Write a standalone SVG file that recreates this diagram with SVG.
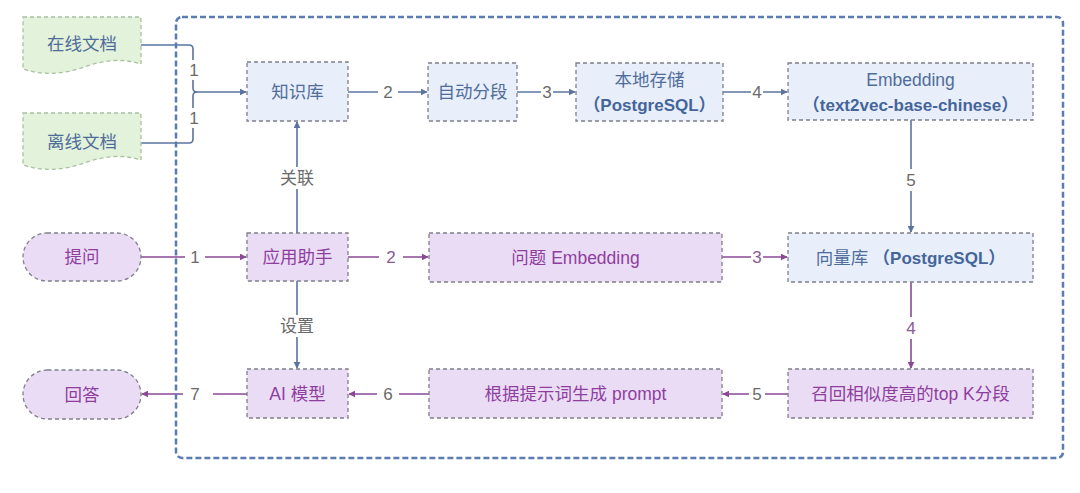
<svg xmlns="http://www.w3.org/2000/svg" width="1080" height="493" viewBox="0 0 1080 493">
<defs>
<style>
.t{font-family:"Liberation Sans","Noto Sans CJK SC",sans-serif;font-size:17.5px;text-anchor:middle;dominant-baseline:central}
.tb{fill:#4f6d9a}
.tp{fill:#8e3f9e}
.bold{font-weight:bold;fill:#44659a;font-size:17px}
.lbl{font-family:"Liberation Sans","Noto Sans CJK SC",sans-serif;font-size:17px;text-anchor:middle;dominant-baseline:central;fill:#6a6a6a}
.lblp{fill:#8a5a94}
.bx{stroke:#7f7f8a;stroke-width:1.3;stroke-dasharray:4 3}
.blue{fill:#e8eefa}
.purp{fill:#ebdcf6}
.green{fill:#e3f2da;stroke:#a9c0a0;stroke-width:1.3;stroke-dasharray:4 3}
.cb{fill:none;stroke:#5a74a0;stroke-width:1.6}
.cp{fill:none;stroke:#8a4896;stroke-width:1.6}
.bg{fill:#ffffff}
</style>
<marker id="ab" viewBox="0 0 10 10" refX="9" refY="5" markerWidth="7" markerHeight="7" orient="auto" markerUnits="userSpaceOnUse"><path d="M0,0 L10,5 L0,10 Z" fill="#5a74a0"/></marker>
<marker id="ap" viewBox="0 0 10 10" refX="9" refY="5" markerWidth="7" markerHeight="7" orient="auto" markerUnits="userSpaceOnUse"><path d="M0,0 L10,5 L0,10 Z" fill="#8a4896"/></marker>
</defs>
<rect width="1080" height="493" fill="#ffffff"/>

<g id="connectors">
<path class="cb" d="M141,45 H189 Q193,45 193,49 V88 Q193,92 197,92 H246" marker-end="url(#ab)"/>
<path class="cb" d="M141,143 H189 Q193,143 193,139 V96 Q193,92 197,92"/>
<path class="cb" d="M348,92 H427" marker-end="url(#ab)"/>
<path class="cb" d="M517,92 H575" marker-end="url(#ab)"/>
<path class="cb" d="M723,92 H787" marker-end="url(#ab)"/>
<path class="cb" d="M911,120 V232" marker-end="url(#ab)"/>
<path class="cb" d="M297,233 V122" marker-end="url(#ab)"/>
<path class="cb" d="M297,281 V368" marker-end="url(#ab)"/>
<path class="cp" d="M141,257 H246" marker-end="url(#ap)"/>
<path class="cp" d="M348,257 H428" marker-end="url(#ap)"/>
<path class="cp" d="M722,257 H787" marker-end="url(#ap)"/>
<path class="cp" d="M911,282 V368" marker-end="url(#ap)"/>
<path class="cp" d="M788,394 H723" marker-end="url(#ap)"/>
<path class="cp" d="M429,394 H349" marker-end="url(#ap)"/>
<path class="cp" d="M247,394 H142" marker-end="url(#ap)"/>
<rect class="bg" x="187" y="60" width="14" height="20"/>
<text class="lbl" x="194" y="70">1</text>
<rect class="bg" x="187" y="108" width="14" height="20"/>
<text class="lbl" x="194" y="118">1</text>
<rect class="bg" x="378" y="82" width="20" height="20"/>
<text class="lbl" x="388" y="92">2</text>
<rect class="bg" x="541" y="82" width="12" height="20"/>
<text class="lbl" x="547" y="92">3</text>
<rect class="bg" x="751" y="82" width="12" height="20"/>
<text class="lbl" x="757" y="92">4</text>
<rect class="bg" x="903" y="169" width="16" height="22"/>
<text class="lbl" x="911" y="180">5</text>
<rect class="bg" x="275" y="167" width="44" height="22"/>
<text class="lbl" x="297" y="178">关联</text>
<rect class="bg" x="275" y="315" width="44" height="22"/>
<text class="lbl" x="297" y="326">设置</text>
<rect class="bg" x="185" y="247" width="20" height="20"/>
<text class="lbl" x="195" y="257">1</text>
<rect class="bg" x="379" y="247" width="24" height="20"/>
<text class="lbl lblp" x="391" y="257">2</text>
<rect class="bg" x="751" y="247" width="12" height="20"/>
<text class="lbl lblp" x="757" y="257">3</text>
<rect class="bg" x="903" y="317" width="16" height="22"/>
<text class="lbl lblp" x="911" y="328">4</text>
<rect class="bg" x="749" y="384" width="16" height="20"/>
<text class="lbl" x="757" y="394">5</text>
<rect class="bg" x="377" y="384" width="22" height="20"/>
<text class="lbl" x="388" y="394">6</text>
<rect class="bg" x="183" y="384" width="30" height="20"/>
<text class="lbl" x="195" y="394">7</text>
</g>

<g id="boundary">
<rect x="176" y="17" width="887" height="441" rx="6" fill="none" stroke="#5b7cb3" stroke-width="2.5" stroke-dasharray="6 3"/>
</g>

<g id="online-doc">
<path class="green" d="M23,17 H141 V64 C122,58 104,60 84,67 C64,74 44,76 23,69 Z"/>
<text class="t tb" x="82" y="44">在线文档</text>
</g>
<g id="offline-doc">
<path class="green" d="M23,113 H141 V160 C122,154 104,156 84,163 C64,170 44,172 23,165 Z"/>
<text class="t tb" x="82" y="142">离线文档</text>
</g>

<g id="kb">
<rect class="bx blue" x="247" y="62" width="101" height="59"/>
<text class="t tb" x="297.5" y="92">知识库</text>
</g>
<g id="segment">
<rect class="bx blue" x="428" y="63" width="89" height="58"/>
<text class="t tb" x="472.5" y="92">自动分段</text>
</g>
<g id="storage">
<rect class="bx blue" x="576" y="63" width="147" height="58"/>
<text class="t tb" x="649.5" y="80">本地存储</text>
<text class="t bold" x="649.5" y="105">（PostgreSQL）</text>
</g>
<g id="embedding">
<rect class="bx blue" x="788" y="63" width="245" height="57"/>
<text class="t tb" x="910.5" y="80">Embedding</text>
<text class="t bold" x="910.5" y="105">（text2vec-base-chinese）</text>
</g>

<g id="ask">
<rect class="bx purp" x="23" y="233" width="118" height="48" rx="24"/>
<text class="t tp" x="82" y="257">提问</text>
</g>
<g id="assistant">
<rect class="bx purp" x="247" y="233" width="101" height="48"/>
<text class="t tp" x="297.5" y="257">应用助手</text>
</g>
<g id="q-embedding">
<rect class="bx purp" x="429" y="233" width="293" height="49"/>
<text class="t tp" x="575.5" y="257.5">问题 Embedding</text>
</g>
<g id="vector-db">
<rect class="bx blue" x="788" y="233" width="245" height="49"/>
<text class="t tb" x="910.5" y="257.5"><tspan>向量库 </tspan><tspan class="bold">（PostgreSQL）</tspan></text>
</g>

<g id="answer">
<rect class="bx purp" x="23" y="370" width="118" height="49" rx="24.5"/>
<text class="t tp" x="82" y="394.5">回答</text>
</g>
<g id="ai-model">
<rect class="bx purp" x="247" y="369" width="101" height="49"/>
<text class="t tp" x="297.5" y="393.5">AI 模型</text>
</g>
<g id="prompt">
<rect class="bx purp" x="429" y="369" width="293" height="49"/>
<text class="t tp" x="575.5" y="393.5">根据提示词生成 prompt</text>
</g>
<g id="recall">
<rect class="bx purp" x="788" y="369" width="245" height="49"/>
<text class="t tp" x="910.5" y="393.5">召回相似度高的top K分段</text>
</g>
</svg>
